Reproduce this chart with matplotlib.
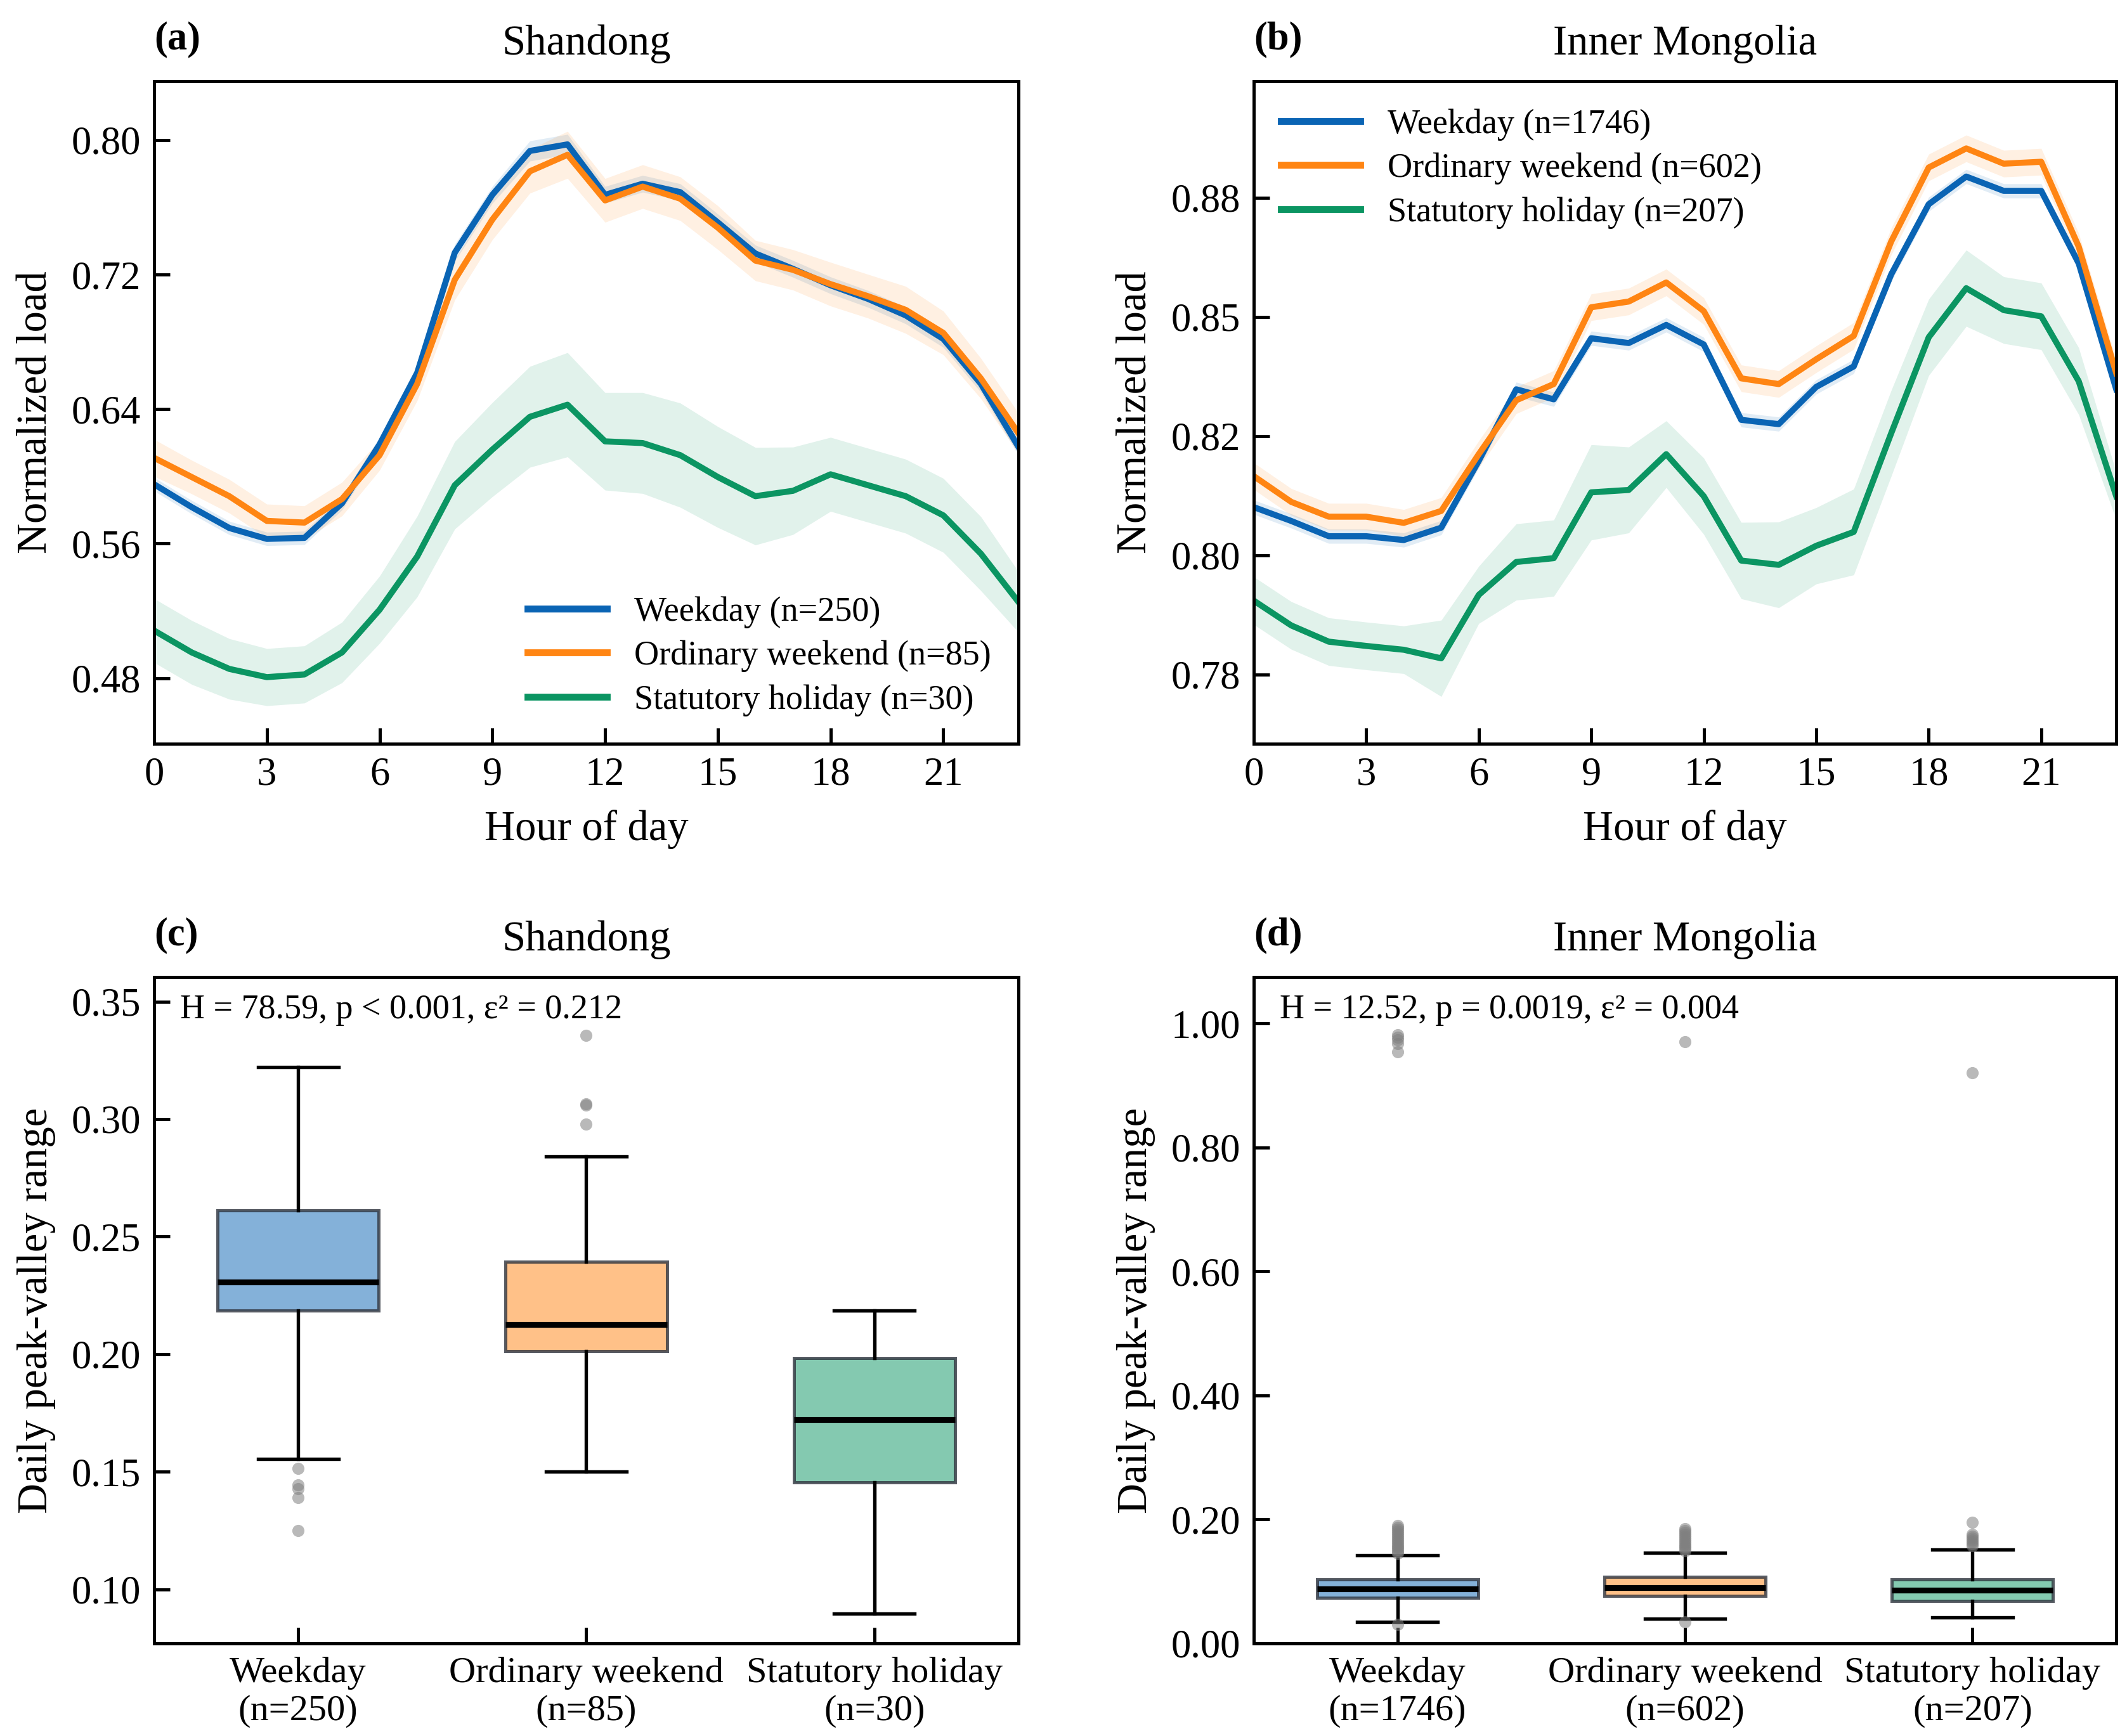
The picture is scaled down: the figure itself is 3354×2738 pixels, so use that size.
import matplotlib
matplotlib.use("Agg")
import matplotlib.pyplot as plt
import numpy as np
from matplotlib.ticker import FormatStrFormatter

plt.rcParams['font.family'] = ['Liberation Serif', 'DejaVu Serif']
plt.rcParams['mathtext.fontset'] = 'stix'

# ---------------- data ----------------
hours = list(range(24))
series_labels = ["Weekday", "Ordinary weekend", "Statutory holiday"]
colors = ["#0a64b4", "#ff8513", "#0b9562"]

# Panel (a) Shandong
sd_n = [250, 85, 30]
sd_weekday = [0.5953, 0.5817, 0.5693, 0.5628, 0.5634, 0.5840, 0.6190, 0.6615,
              0.7330, 0.7674, 0.7935, 0.7974, 0.7674, 0.7740, 0.7690, 0.7510,
              0.7325, 0.7234, 0.7136, 0.7055, 0.6957, 0.6817, 0.6550, 0.6175]
sd_weekend = [0.6110, 0.5996, 0.5882, 0.5735, 0.5725, 0.5865, 0.6126, 0.6550,
              0.7169, 0.7527, 0.7814, 0.7912, 0.7641, 0.7723, 0.7651, 0.7479,
              0.7283, 0.7228, 0.7143, 0.7071, 0.6990, 0.6853, 0.6582, 0.6256]
sd_holiday = [0.5083, 0.4953, 0.4855, 0.4806, 0.4822, 0.4953, 0.5207, 0.5523,
              0.5947, 0.6159, 0.6354, 0.6426, 0.6208, 0.6198, 0.6126, 0.5996,
              0.5882, 0.5914, 0.6012, 0.5947, 0.5882, 0.5768, 0.5540, 0.5253]
sd_weekday_ci = [0.004, 0.004, 0.004, 0.004, 0.004, 0.004, 0.004, 0.005,
                 0.005, 0.005, 0.006, 0.006, 0.005, 0.005, 0.005, 0.005,
                 0.005, 0.005, 0.005, 0.005, 0.005, 0.005, 0.005, 0.005]
sd_weekend_ci = [0.011, 0.010, 0.010, 0.010, 0.010, 0.010, 0.009, 0.010,
                 0.012, 0.012, 0.013, 0.014, 0.013, 0.013, 0.013, 0.013,
                 0.012, 0.012, 0.013, 0.013, 0.014, 0.013, 0.012, 0.012]
sd_holiday_ci = [0.019, 0.019, 0.018, 0.017, 0.017, 0.018, 0.020, 0.024,
                 0.026, 0.028, 0.030, 0.031, 0.029, 0.030, 0.031, 0.030,
                 0.029, 0.026, 0.022, 0.022, 0.022, 0.022, 0.022, 0.018]

# Panel (b) Inner Mongolia
im_n = [1746, 602, 207]
im_weekday = [0.8101, 0.8072, 0.8040, 0.8040, 0.8032, 0.8058, 0.8198, 0.8348,
              0.8327, 0.8455, 0.8445, 0.8483, 0.8442, 0.8284, 0.8275, 0.8353,
              0.8396, 0.8589, 0.8736, 0.8794, 0.8764, 0.8764, 0.8612, 0.8348]
im_weekend = [0.8166, 0.8112, 0.8081, 0.8081, 0.8068, 0.8093, 0.8212, 0.8325,
              0.8359, 0.8520, 0.8532, 0.8572, 0.8512, 0.8371, 0.8359, 0.8411,
              0.8460, 0.8658, 0.8813, 0.8853, 0.8821, 0.8825, 0.8647, 0.8382]
im_holiday = [0.7905, 0.7853, 0.7819, 0.7810, 0.7802, 0.7784, 0.7917, 0.7986,
              0.7994, 0.8132, 0.8137, 0.8212, 0.8124, 0.7989, 0.7980, 0.8020,
              0.8049, 0.8256, 0.8457, 0.8560, 0.8514, 0.8501, 0.8365, 0.8124]
im_weekday_ci = [0.0015] * 24
im_weekend_ci = [0.0028] * 24
im_holiday_ci = [0.005, 0.005, 0.005, 0.005, 0.005, 0.008, 0.006, 0.008,
                 0.008, 0.010, 0.009, 0.007, 0.008, 0.008, 0.009, 0.008,
                 0.009, 0.009, 0.008, 0.008, 0.007, 0.007, 0.007, 0.005]

# Panel (c) Shandong daily peak-valley range box stats
sd_med = [0.2308, 0.2127, 0.1722]
sd_q1 = [0.2185, 0.2012, 0.1456]
sd_q3 = [0.2613, 0.2394, 0.1984]
sd_whislo = [0.1556, 0.1502, 0.0896]
sd_whishi = [0.3222, 0.2840, 0.2185]
sd_fliers = [[0.1514, 0.1444, 0.1428, 0.1389, 0.1250],
             [0.3357, 0.3065, 0.3060, 0.2979],
             []]
sd_stat = "H = 78.59, p < 0.001, ε² = 0.212"

# Panel (d) Inner Mongolia
im_med = [0.0877, 0.0904, 0.0860]
im_q1 = [0.0737, 0.0772, 0.0684]
im_q3 = [0.1035, 0.1070, 0.1035]
im_whislo = [0.0351, 0.0395, 0.0420]
im_whishi = [0.1421, 0.1465, 0.1510]
im_fliers = [[0.031, 0.145, 0.148, 0.151, 0.154, 0.157, 0.160, 0.163, 0.166,
              0.169, 0.172, 0.175, 0.178, 0.181, 0.184, 0.187, 0.190,
              0.954, 0.968, 0.974, 0.978, 0.982],
             [0.035, 0.149, 0.152, 0.155, 0.158, 0.161, 0.164, 0.167, 0.170,
              0.173, 0.176, 0.179, 0.182, 0.185, 0.971],
             [0.158, 0.161, 0.164, 0.167, 0.170, 0.173, 0.176, 0.195, 0.921]]
im_stat = "H = 12.52, p = 0.0019, ε² = 0.004"

# ---------------- figure ----------------
fig = plt.figure(figsize=(3354 / 300, 2738 / 300), dpi=300)
W, H = 3354, 2738

def ax_at(l, t, r, b):
    return fig.add_axes([l / W, 1 - b / H, (r - l) / W, (b - t) / H])

axA = ax_at(243, 128, 1606, 1173)
axB = ax_at(1977, 128, 3337, 1173)
axC = ax_at(243, 1541, 1606, 2592)
axD = ax_at(1977, 1541, 3337, 2592)

TICK_FS = 15
LABEL_FS = 16
TITLE_FS = 16

def style(ax):
    for s in ax.spines.values():
        s.set_linewidth(1.2)
        s.set_color('black')
    ax.tick_params(direction='in', length=6, width=1.2, labelsize=TICK_FS,
                   top=False, right=False, pad=5)

def line_panel(ax, means, cis, ns, title, tag, ylim, yticks, fmt, legloc):
    x = np.array(hours)
    for m, c, col, lab, n in zip(means, cis, colors, series_labels, ns):
        m = np.array(m); c = np.array(c)
        ax.fill_between(x, m - c, m + c, color=col, alpha=0.12, lw=0)
        ax.plot(x, m, color=col, lw=2.3, label=f"{lab} (n={n})")
    ax.set_xlim(0, 23)
    ax.set_ylim(*ylim)
    ax.set_xticks([0, 3, 6, 9, 12, 15, 18, 21])
    ax.set_yticks(yticks)
    ax.yaxis.set_major_formatter(FormatStrFormatter(fmt))
    ax.set_xlabel("Hour of day", fontsize=LABEL_FS, labelpad=6)
    ax.set_ylabel("Normalized load", fontsize=LABEL_FS, labelpad=6)
    ax.set_title(title, fontsize=TITLE_FS, pad=10)
    ax.text(0.0, 1.035, tag, transform=ax.transAxes, fontsize=15,
            fontweight='bold', ha='left', va='bottom')
    style(ax)
    leg = ax.legend(loc=legloc, frameon=False, fontsize=13, handlelength=2.3,
                    labelspacing=0.35, borderaxespad=0.4)
    for h in leg.get_lines():
        h.set_linewidth(2.6)

line_panel(axA, [sd_weekday, sd_weekend, sd_holiday],
           [sd_weekday_ci, sd_weekend_ci, sd_holiday_ci], sd_n,
           "Shandong", "(a)", (0.441, 0.835), [0.48, 0.56, 0.64, 0.72, 0.80],
           '%.2f', 'lower right')
line_panel(axB, [im_weekday, im_weekend, im_holiday],
           [im_weekday_ci, im_weekend_ci, im_holiday_ci], im_n,
           "Inner Mongolia", "(b)", (0.7605, 0.8994),
           [0.775, 0.800, 0.825, 0.850, 0.875], '%.2f', 'upper left')

def box_panel(ax, med, q1, q3, lo, hi, fliers, ns, title, tag, ylim, yticks, stat):
    stats = []
    for i in range(3):
        stats.append(dict(med=med[i], q1=q1[i], q3=q3[i], whislo=lo[i],
                          whishi=hi[i], fliers=fliers[i],
                          label=f"{series_labels[i]}\n(n={ns[i]})"))
    bp = ax.bxp(stats, positions=[0, 1, 2], widths=0.56, patch_artist=True,
                showfliers=True,
                boxprops=dict(edgecolor=(0.18, 0.2, 0.24, 0.8), linewidth=1.2),
                medianprops=dict(color='black', linewidth=2.2),
                whiskerprops=dict(color='black', linewidth=1.3),
                capprops=dict(color='black', linewidth=1.3),
                flierprops=dict(marker='o', markersize=4.6,
                                markerfacecolor='gray', markeredgecolor='none',
                                alpha=0.55))
    for patch, col in zip(bp['boxes'], colors):
        patch.set_facecolor(matplotlib.colors.to_rgba(col, 0.5))
    ax.set_xlim(-0.5, 2.5)
    ax.set_ylim(*ylim)
    ax.set_yticks(yticks)
    ax.yaxis.set_major_formatter(FormatStrFormatter('%.2f'))
    ax.set_ylabel("Daily peak-valley range", fontsize=LABEL_FS, labelpad=6)
    ax.set_title(title, fontsize=TITLE_FS, pad=10)
    ax.text(0.0, 1.035, tag, transform=ax.transAxes, fontsize=15,
            fontweight='bold', ha='left', va='bottom')
    ax.text(0.03, 0.975, stat, transform=ax.transAxes, fontsize=13,
            ha='left', va='top')
    style(ax)
    ax.tick_params(axis='x', labelsize=14)

box_panel(axC, sd_med, sd_q1, sd_q3, sd_whislo, sd_whishi, sd_fliers, sd_n,
          "Shandong", "(c)", (0.077, 0.3604), [0.10, 0.15, 0.20, 0.25, 0.30, 0.35],
          sd_stat)
box_panel(axD, im_med, im_q1, im_q3, im_whislo, im_whishi, im_fliers, im_n,
          "Inner Mongolia", "(d)", (0.0, 1.075), [0.0, 0.2, 0.4, 0.6, 0.8, 1.0],
          im_stat)

fig.savefig("out.png", dpi=300)
